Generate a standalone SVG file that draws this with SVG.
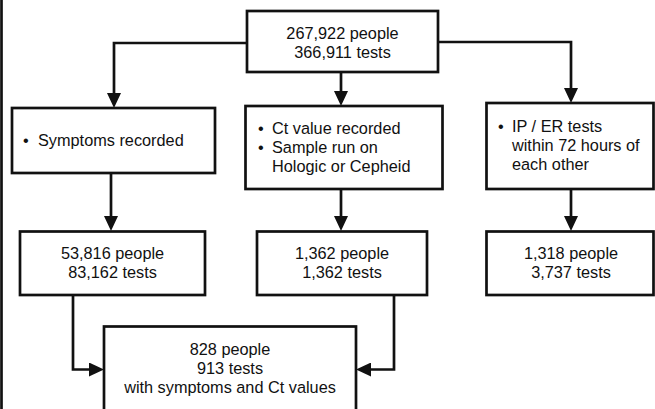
<svg xmlns="http://www.w3.org/2000/svg" width="655" height="409" viewBox="0 0 655 409">
<style>
.box{fill:#fff;stroke:#111;stroke-width:2.7}
.t{font-family:"Liberation Sans",Arial,Helvetica,sans-serif;font-size:16.3px;fill:#111}
.c{text-anchor:middle}
.ln{fill:none;stroke:#111;stroke-width:2.7;stroke-linejoin:miter}
</style>
<defs>
<marker id="ah" markerUnits="userSpaceOnUse" markerWidth="15" markerHeight="14" viewBox="0 0 15 14" refX="6" refY="7" orient="auto">
<path d="M0,0 L15,7 L0,14 z" fill="#111"/>
</marker>
</defs>
<rect x="0" y="0" width="655" height="409" fill="#fff"/>
<line x1="1.5" y1="0" x2="1.5" y2="409" stroke="#111" stroke-width="2.7"/>
<g id="connectors">
<path class="ln" d="M247,43 H114 V99" marker-end="url(#ah)"/>
<path class="ln" d="M341,72 V97" marker-end="url(#ah)"/>
<path class="ln" d="M438,42 H571 V94" marker-end="url(#ah)"/>
<path class="ln" d="M111,173 V222" marker-end="url(#ah)"/>
<path class="ln" d="M341,189 V222" marker-end="url(#ah)"/>
<path class="ln" d="M571,189 V222" marker-end="url(#ah)"/>
<path class="ln" d="M73,295 V369.5 H95" marker-end="url(#ah)"/>
<path class="ln" d="M394,295 V369.5 H365" marker-end="url(#ah)"/>
</g>
<g id="n-top">
<rect class="box" x="247" y="11" width="191" height="61"/>
<text class="t c" x="342.5" y="39">267,922 people</text>
<text class="t c" x="342.5" y="58">366,911 tests</text>
</g>
<g id="n-symptoms">
<rect class="box" x="12" y="108" width="203" height="65"/>
<text class="t" x="23" y="146">•</text>
<text class="t" x="38" y="146">Symptoms recorded</text>
</g>
<g id="n-ct">
<rect class="box" x="245.5" y="106" width="197" height="83"/>
<text class="t" x="258" y="134">•</text>
<text class="t" x="272" y="134">Ct value recorded</text>
<text class="t" x="258" y="153">•</text>
<text class="t" x="272" y="153">Sample run on</text>
<text class="t" x="272" y="172">Hologic or Cepheid</text>
</g>
<g id="n-ipe">
<rect class="box" x="486.5" y="103" width="167" height="86"/>
<text class="t" x="498" y="132">•</text>
<text class="t" x="512" y="132">IP / ER tests</text>
<text class="t" x="512" y="151">within 72 hours of</text>
<text class="t" x="512" y="170">each other</text>
</g>
<g id="n-53816">
<rect class="box" x="20" y="231.5" width="185" height="63.5"/>
<text class="t c" x="112.5" y="259">53,816 people</text>
<text class="t c" x="112.5" y="278">83,162 tests</text>
</g>
<g id="n-1362">
<rect class="box" x="257" y="231.5" width="170" height="63.5"/>
<text class="t c" x="342" y="259">1,362 people</text>
<text class="t c" x="342" y="278">1,362 tests</text>
</g>
<g id="n-1318">
<rect class="box" x="486.5" y="231.5" width="167" height="63.5"/>
<text class="t c" x="571" y="259">1,318 people</text>
<text class="t c" x="571" y="278">3,737 tests</text>
</g>
<g id="n-828">
<rect class="box" x="104" y="326.5" width="252" height="100"/>
<text class="t c" x="230" y="355">828 people</text>
<text class="t c" x="230" y="374">913 tests</text>
<text class="t c" x="230" y="393">with symptoms and Ct values</text>
</g>
</svg>
